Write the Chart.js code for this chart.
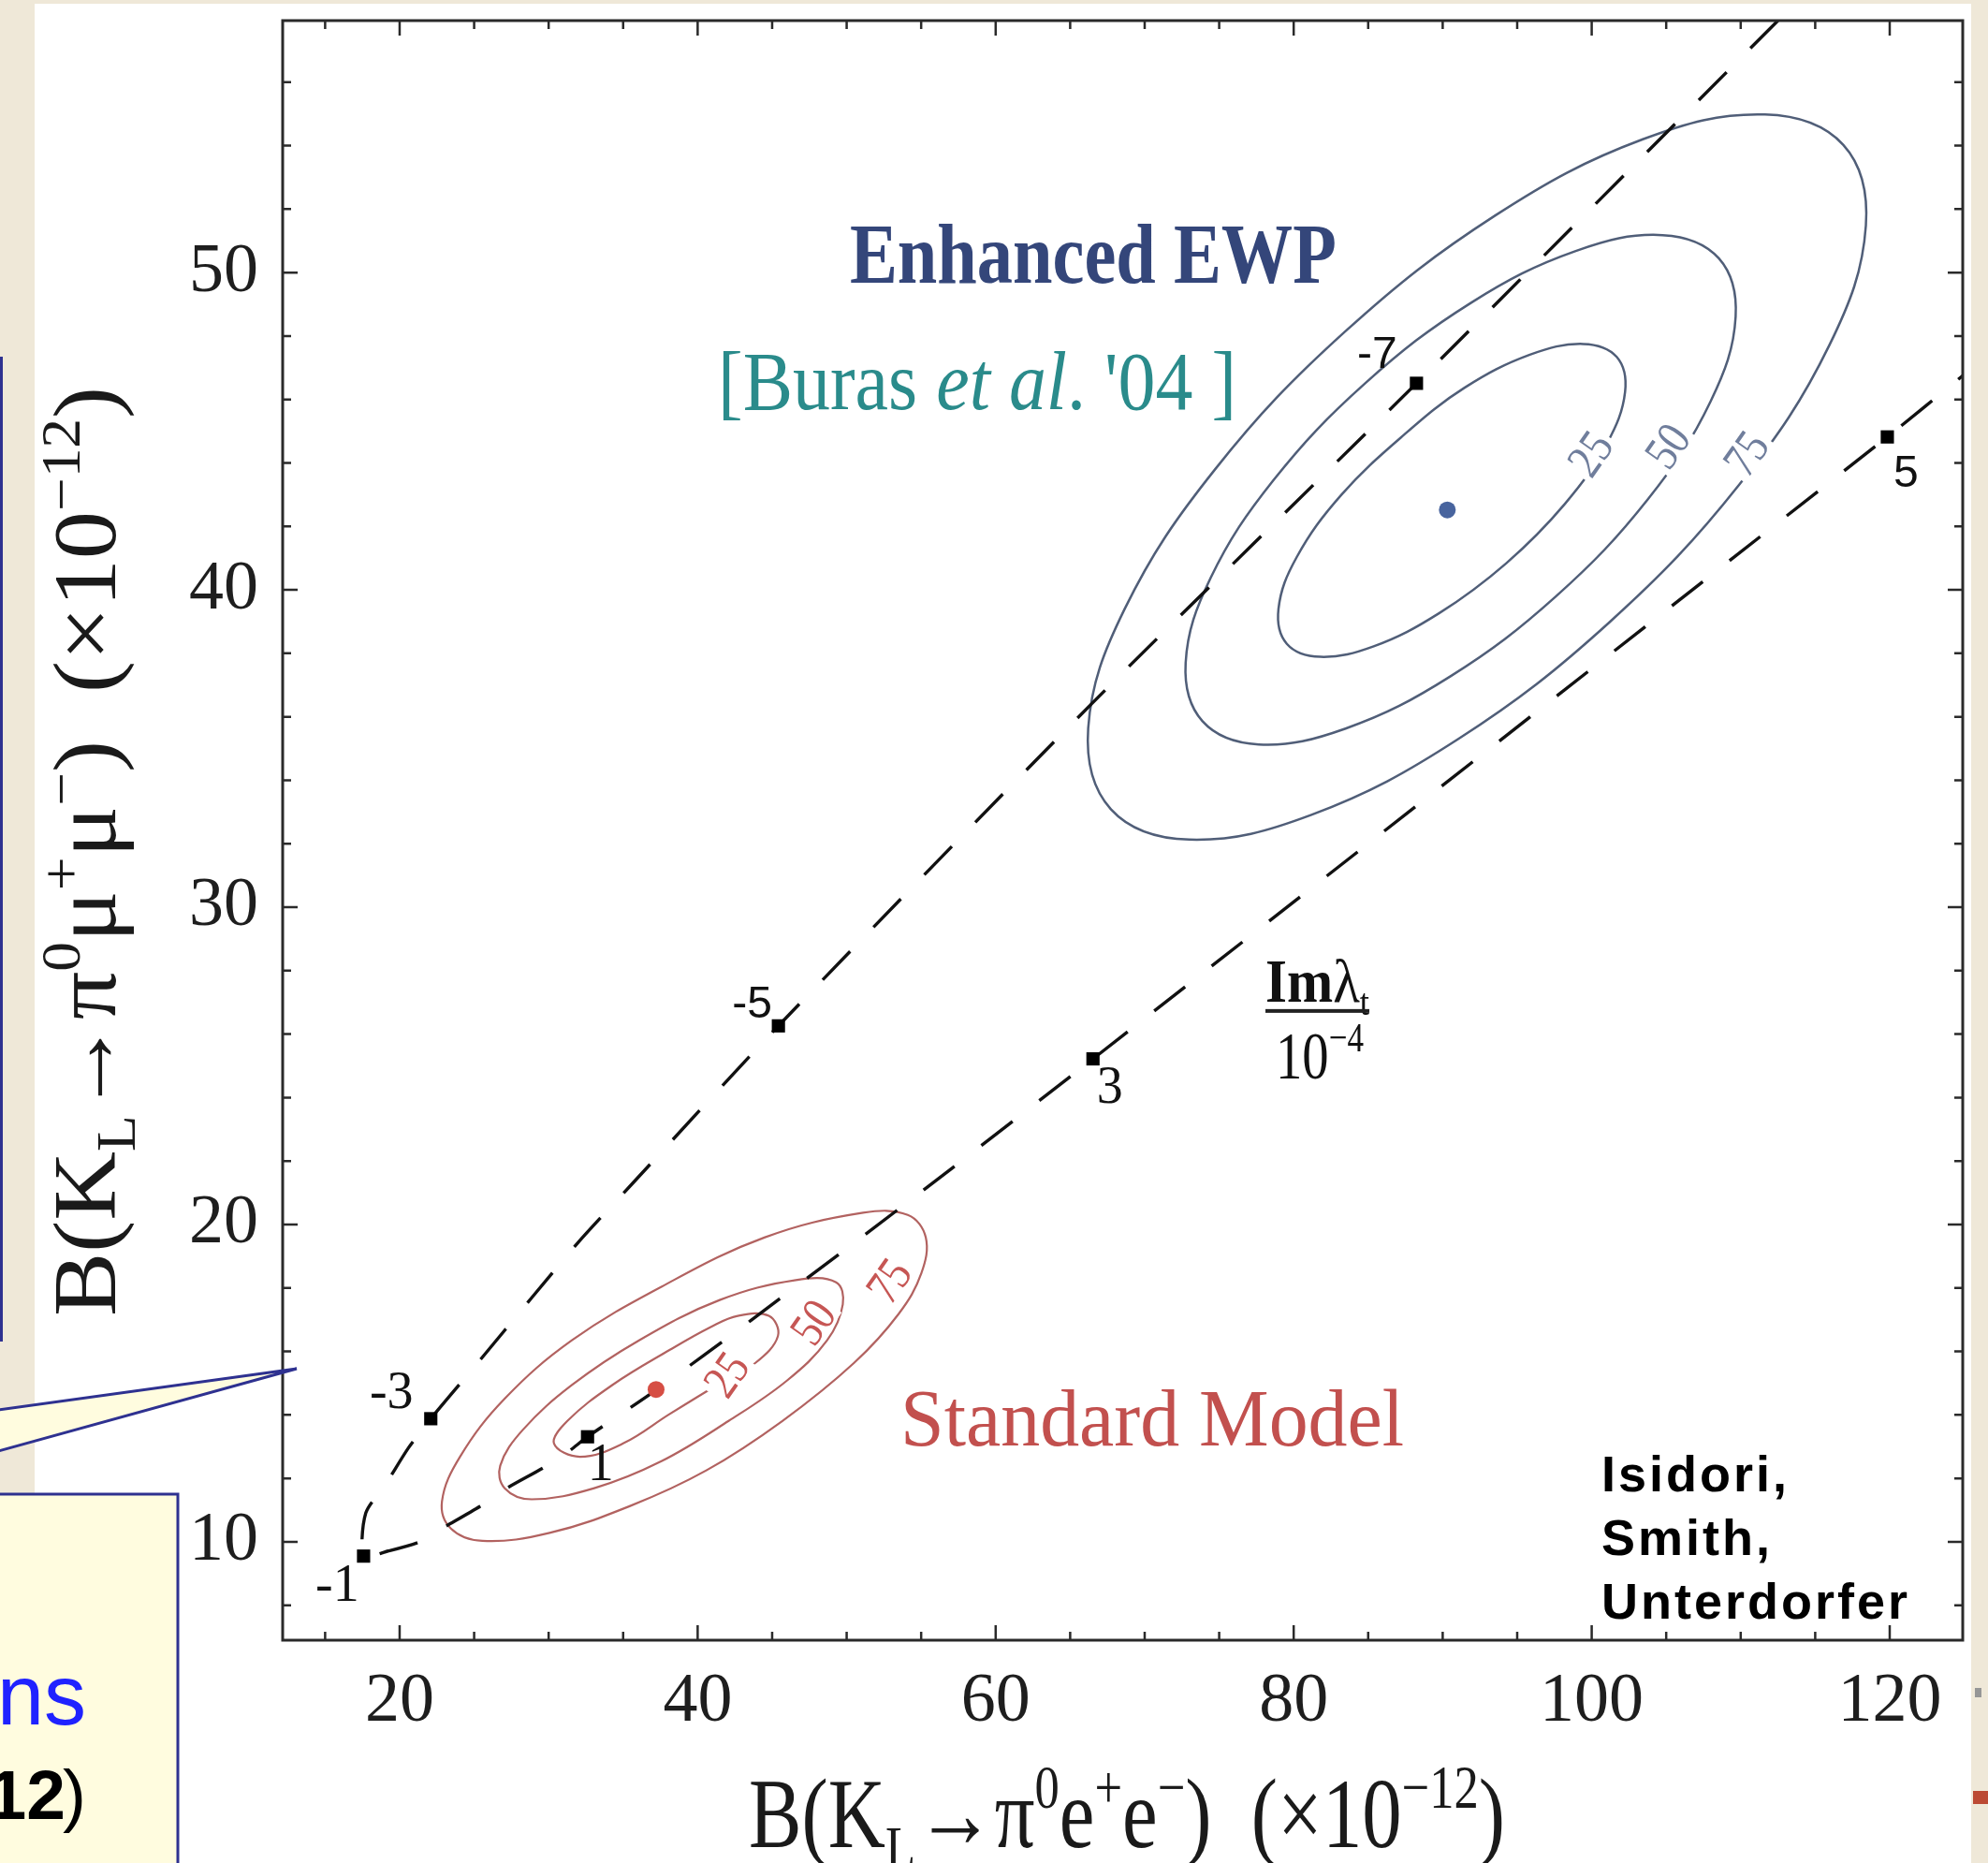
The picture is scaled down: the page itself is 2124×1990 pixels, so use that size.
<!DOCTYPE html>
<html>
<head>
<meta charset="utf-8">
<title>KL -> pi0 l+ l- correlation</title>
<script src="https://cdn.jsdelivr.net/npm/chart.js@4.4.1/dist/chart.umd.min.js"></script>
<style>
  html, body { margin: 0; padding: 0; background: #efe8d8; }
  canvas { display: block; }
</style>
</head>
<body>
<canvas id="kaonPlot" width="2124" height="1990"></canvas>
<script>
// axis tick labels (minor ticks every 5 on x, every 2 on y)
var xTickLabels = [20, 40, 60, 80, 100, 120];
var yTickLabels = [10, 20, 30, 40, 50];

// dashed theory curve (upper branch down to -1, then lower branch)
var curveX = [112.5, 88.24, 66.48, 45.42, 35.62, 32.01, 28.86, 25.24, 22.09, 20.59, 19.08, 17.73, 17.58,
              19.23, 21.34, 22.84, 25.4, 27.2, 29.6, 31.26, 32.61, 37.2, 43.58, 55.15, 66.53, 119.84, 124.9];
var curveY = [57.94, 46.51, 36.43, 26.26, 21.29, 19.45, 17.69, 15.64, 13.88, 12.96, 11.83, 10.91, 9.55,
              9.71, 10.0, 10.42, 11.12, 11.69, 12.32, 12.82, 13.31, 14.78, 16.98, 21.08, 25.22, 44.82, 46.75];

// marked values of Im(lambda_t)/10^-4 on the curve
var imLambdaLabels = ['-7', '-5', '-3', '-1', '1', '3', '5'];
var imLambdaX = [88.24, 45.42, 22.09, 17.58, 32.61, 66.53, 119.84];
var imLambdaY = [46.51, 26.26, 13.88, 9.55, 13.31, 25.22, 44.82];

// central values: Standard Model, Enhanced EWP
var centralX = [37.21, 90.31];
var centralY = [14.80, 42.52];

// Standard Model contours (25, 50, 75)
var sm25X = [42.68, 44.78, 45.39, 43.88, 41.3, 38.1, 35.0, 32.1, 30.36, 31.26, 34.27, 38.17, 40.88];
var sm25Y = [17.12, 17.12, 16.49, 15.64, 14.94, 14.02, 13.1, 12.68, 13.10, 13.81, 14.94, 16.06, 16.77];
var sm50X = [46.59, 49.29, 49.74, 48.69, 45.99, 42.08, 37.57, 33.06, 28.86, 27.05, 26.75, 28.25, 31.56, 36.07, 41.48];
var sm50Y = [18.25, 18.18, 17.48, 16.35, 15.08, 13.81, 12.54, 11.69, 11.34, 11.69, 12.40, 13.52, 14.94, 16.35, 17.62];
var sm75X = [51.10, 54.10, 55.31, 55.01, 53.50, 50.50, 45.69, 40.58, 35.47, 30.06, 25.55, 23.44, 22.84, 24.05, 27.05, 31.56, 37.57, 44.48];
var sm75Y = [20.37, 20.30, 19.59, 18.46, 17.19, 15.64, 13.81, 12.25, 11.13, 10.28, 10.03, 10.42, 11.27, 12.68, 14.51, 16.35, 18.04, 19.59];

// Enhanced EWP contours (25, 50, 75)
var ewp25X = [101.68, 102.24, 101.02, 98.22, 94.27, 89.75, 85.37, 81.78, 79.54, 78.98, 80.19, 83.21, 87.46, 91.47, 95.85, 99.43];
var ewp25Y = [47.34, 46.24, 44.61, 42.72, 40.84, 39.26, 38.22, 37.89, 38.30, 39.40, 41.02, 43.00, 44.91, 46.37, 47.41, 47.75];
var ewp50X = [108.53, 109.66, 107.98, 103.76, 97.61, 90.50, 83.48, 77.65, 73.88, 72.75, 74.42, 78.65, 84.80, 91.91, 98.93, 104.76];
var ewp50Y = [50.45, 48.61, 45.94, 42.85, 39.80, 37.27, 35.63, 35.13, 35.86, 37.70, 40.37, 43.46, 46.51, 49.05, 50.68, 51.18];
var ewp75X = [116.89, 118.40, 115.96, 109.91, 101.17, 91.08, 81.19, 72.99, 67.73, 66.21, 68.66, 74.71, 83.45, 93.53, 103.43, 111.63];
var ewp75Y = [54.02, 51.48, 47.72, 43.32, 38.97, 35.31, 32.91, 32.13, 33.09, 35.64, 39.40, 43.79, 48.14, 51.80, 54.20, 54.98];

// contour level labels and where they sit
var contourLevels = ['25', '50', '75'];
var smLevelX = [42.0, 47.8, 52.9];
var smLevelY = [15.25, 16.9, 18.2];
var ewpLevelX = [99.97, 105.16, 110.43];
var ewpLevelY = [44.27, 44.51, 44.27];

var RED_LINE = 'rgb(178,98,96)';
var BLUE_LINE = 'rgb(80,94,120)';

function loopPoints(xs, ys) {
  // closed curve: wrap one point on each side so the spline is smooth at the seam
  var n = xs.length, pts = [{x: xs[n - 1], y: ys[n - 1]}];
  for (var i = 0; i < n; i++) pts.push({x: xs[i], y: ys[i]});
  pts.push({x: xs[0], y: ys[0]});
  pts.push({x: xs[1], y: ys[1]});
  return pts;
}

function contourSet(label, xs, ys, color, width) {
  var last = xs.length + 2;
  return {
    label: label,
    data: loopPoints(xs, ys),
    showLine: true,
    tension: 0.38,
    pointRadius: 0,
    borderColor: color,
    borderWidth: width,
    fill: false,
    segment: {
      borderColor: function (c) {
        return (c.p0DataIndex === 0 || c.p1DataIndex === last) ? 'rgba(0,0,0,0)' : color;
      }
    }
  };
}

function pairs(xs, ys) {
  return xs.map(function (x, i) { return {x: x, y: ys[i]}; });
}

// ---- text helpers: parts are [text, shift(0 / 1 sup / -1 sub), style, weight]
function setFont(ctx, f, size, p) {
  var sz = p[1] ? size * 0.62 : size;
  ctx.font = (p[2] || f.style || 'normal') + ' ' + (p[3] || f.weight || 'normal') + ' ' + sz + 'px "' + f.family + '"';
}
function richWidth(ctx, parts, f, size) {
  var w = 0;
  parts.forEach(function (p) { setFont(ctx, f, size, p); w += ctx.measureText(p[0]).width; });
  return w;
}
function richDraw(ctx, parts, f, size) {
  var x = 0;
  parts.forEach(function (p) {
    setFont(ctx, f, size, p);
    var dy = p[1] === 1 ? -0.4 * size : (p[1] === -1 ? 0.22 * size : 0);
    ctx.fillText(p[0], x, dy);
    x += ctx.measureText(p[0]).width;
  });
}
// draws rich text with its left/baseline at (left, base), squeezed to a given width
function fitText(ctx, parts, f, size, left, base, width, color, angle) {
  var w = richWidth(ctx, parts, f, size);
  ctx.save();
  ctx.fillStyle = color;
  ctx.textAlign = 'left';
  ctx.textBaseline = 'alphabetic';
  ctx.translate(left, base);
  if (angle) ctx.rotate(angle);
  ctx.scale(width / w, 1);
  richDraw(ctx, parts, f, size);
  ctx.restore();
}

var serif = {family: 'Liberation Serif'};
var serifBold = {family: 'Liberation Serif', weight: 'bold'};

var plotDecor = {
  id: 'plotDecor',
  beforeDraw: function (chart) {
    var ctx = chart.ctx;
    ctx.save();
    ctx.fillStyle = '#efe8d8';
    ctx.fillRect(0, 0, chart.width, chart.height);
    ctx.fillStyle = '#ffffff';
    ctx.fillRect(37, 4, 2106 - 37, chart.height - 4);
    ctx.restore();
  },
  afterDatasetsDraw: function (chart) {
    var ctx = chart.ctx, xs = chart.scales.x, ys = chart.scales.y;
    function px(v) { return xs.getPixelForValue(v); }
    function py(v) { return ys.getPixelForValue(v); }

    // contour level labels, written along the contours
    function levelLabels(lx, ly, color) {
      lx.forEach(function (x, i) {
        ctx.save();
        ctx.translate(px(x), py(ly[i]));
        ctx.rotate(-55 * Math.PI / 180);
        ctx.font = '52px "Liberation Serif"';
        ctx.textAlign = 'center';
        ctx.textBaseline = 'middle';
        var w = ctx.measureText(contourLevels[i]).width * 0.85;
        ctx.fillStyle = '#ffffff';
        ctx.fillRect(-w / 2 - 4, -18, w + 8, 36);
        ctx.fillStyle = color;
        ctx.scale(0.85, 1);
        ctx.fillText(contourLevels[i], 0, 2);
        ctx.restore();
      });
    }
    levelLabels(smLevelX, smLevelY, 'rgb(198,86,84)');
    levelLabels(ewpLevelX, ewpLevelY, 'rgb(112,126,156)');

    // Im(lambda_t) values next to the markers
    var offsets = [[-42, -30], [-28, -22], [-42, -26], [-28, 33], [14, 32], [18, 32], [20, 40]];
    var sansLabel = ['-7', '-5', '5'];
    ctx.save();
    ctx.fillStyle = '#111';
    ctx.textAlign = 'center';
    ctx.textBaseline = 'middle';
    imLambdaLabels.forEach(function (t, i) {
      ctx.font = sansLabel.indexOf(t) >= 0 ? '48px "Liberation Sans"' : '56px "Liberation Serif"';
      ctx.fillText(t, px(imLambdaX[i]) + offsets[i][0], py(imLambdaY[i]) + offsets[i][1]);
    });
    ctx.restore();

    // region labels
    fitText(ctx, [['Enhanced EWP', 0]], serifBold, 90, px(50.21), py(49.68), 520, '#34467a');
    fitText(ctx, [['[Buras ', 0], ['et al', 0, 'italic'], [". '04 ]", 0]], serif, 88, px(41.36), py(45.69), 554, '#2a8b8b');
    fitText(ctx, [['Standard Model', 0]], serif, 86, px(53.61), py(13.04), 538, '#c2504e');

    // Im lambda_t / 10^-4 fraction
    var cx = px(81.56), cy = py(26.73);
    fitText(ctx, [['Im', 0, '', 'bold'], ['\u03bb', 0], ['t', -1]], serif, 66, cx - 55, cy - 10, 111, '#111');
    ctx.save();
    ctx.fillStyle = '#222';
    ctx.fillRect(cx - 55, cy - 2, 111, 4);
    ctx.restore();
    fitText(ctx, [['10', 0], ['\u22124', 1]], serif, 72, cx - 44, cy + 72, 94, '#111');
  },
  afterDraw: function (chart) {
    var ctx = chart.ctx, a = chart.chartArea, xs = chart.scales.x, ys = chart.scales.y;

    // frame and inward ticks on all four sides
    ctx.save();
    ctx.strokeStyle = '#2a2a2a';
    ctx.lineWidth = 2.5;
    ctx.beginPath();
    xs.ticks.forEach(function (t) {
      var p = xs.getPixelForValue(t.value), len = xTickLabels.indexOf(t.value) >= 0 ? 16 : 9;
      ctx.moveTo(p, a.bottom); ctx.lineTo(p, a.bottom - len);
      ctx.moveTo(p, a.top); ctx.lineTo(p, a.top + len);
    });
    ys.ticks.forEach(function (t) {
      var p = ys.getPixelForValue(t.value), len = yTickLabels.indexOf(t.value) >= 0 ? 16 : 9;
      ctx.moveTo(a.left, p); ctx.lineTo(a.left + len, p);
      ctx.moveTo(a.right, p); ctx.lineTo(a.right - len, p);
    });
    ctx.stroke();
    ctx.lineWidth = 3;
    ctx.strokeRect(a.left, a.top, a.right - a.left, a.bottom - a.top);
    ctx.restore();

    // axis titles
    fitText(ctx, [['B(K', 0], ['L', -1], ['\u2192\u03c0', 0], ['0', 1], ['e', 0], ['+', 1], ['e', 0], ['\u2212', 1], [')', 0],
                  ['  (\u00d710', 0], ['\u221212', 1], [')', 0]], serif, 106, 800, 1973, 808, '#1a1a1a');
    fitText(ctx, [['B(K', 0], ['L', -1], ['\u2192\u03c0', 0], ['0', 1], ['\u03bc', 0], ['+', 1], ['\u03bc', 0], ['\u2212', 1], [')', 0],
                  ['  (\u00d710', 0], ['\u221212', 1], [')', 0]], serif, 96, 123, 1406, 993, '#1a1a1a', -Math.PI / 2);

    // credit
    ctx.save();
    ctx.fillStyle = '#000';
    ctx.font = 'bold 54px "Liberation Sans"';
    ctx.letterSpacing = '3px';
    ctx.textAlign = 'left';
    ctx.textBaseline = 'alphabetic';
    ctx.fillText('Isidori,', 1711, 1593);
    ctx.fillText('Smith,', 1711, 1661);
    ctx.fillText('Unterdorfer', 1711, 1729);
    ctx.restore();

    // slide overlay: box edge and callout on the left
    ctx.save();
    ctx.fillStyle = '#2e3190';
    ctx.fillRect(0, 381, 3, 1052);
    ctx.fillStyle = '#fffcdf';
    ctx.strokeStyle = '#2e3190';
    ctx.lineWidth = 3;
    ctx.beginPath();
    ctx.moveTo(-2, 1506); ctx.lineTo(317, 1462); ctx.lineTo(-2, 1550);
    ctx.closePath();
    ctx.fill();
    ctx.beginPath();
    ctx.moveTo(-2, 1506); ctx.lineTo(317, 1462); ctx.lineTo(-2, 1550);
    ctx.stroke();
    ctx.fillRect(-10, 1596, 200, 420);
    ctx.strokeRect(-10, 1596, 200, 420);
    ctx.fillStyle = '#1f22ff';
    ctx.font = '90px "Liberation Sans"';
    ctx.textAlign = 'right';
    ctx.fillText('ns', 92, 1842);
    ctx.fillStyle = '#000';
    ctx.font = '75px "Liberation Sans"';
    ctx.fillText(')', 92, 1943);
    ctx.font = 'bold 75px "Liberation Sans"';
    ctx.fillText('12', 70, 1943);
    // cut-off slide items at the right edge
    ctx.fillStyle = 'rgb(188,74,52)';
    ctx.fillRect(2108, 1913, 16, 14);
    ctx.fillStyle = 'rgb(150,150,150)';
    ctx.fillRect(2110, 1803, 7, 10);
    ctx.restore();
  }
};

var ctx = document.getElementById('kaonPlot').getContext('2d');
var kaonChart = new Chart(ctx, {
  type: 'scatter',
  data: {
    datasets: [
      {
        label: 'Im lambda_t markers',
        data: pairs(imLambdaX, imLambdaY),
        pointStyle: 'rect',
        pointRadius: 10,
        backgroundColor: '#000',
        borderColor: '#000',
        borderWidth: 0
      },
      {
        label: 'central values',
        data: pairs(centralX, centralY),
        pointRadius: 9,
        backgroundColor: ['rgb(214,78,68)', 'rgb(72,100,158)'],
        borderWidth: 0
      },
      {
        label: 'theory curve',
        data: pairs(curveX, curveY),
        showLine: true,
        tension: 0.25,
        pointRadius: 0,
        borderColor: '#111',
        borderWidth: 3.4,
        borderDash: [42, 36]
      },
      contourSet('SM 25', sm25X, sm25Y, RED_LINE, 2.2),
      contourSet('SM 50', sm50X, sm50Y, RED_LINE, 2.2),
      contourSet('SM 75', sm75X, sm75Y, RED_LINE, 2.2),
      contourSet('EWP 25', ewp25X, ewp25Y, BLUE_LINE, 2.5),
      contourSet('EWP 50', ewp50X, ewp50Y, BLUE_LINE, 2.5),
      contourSet('EWP 75', ewp75X, ewp75Y, BLUE_LINE, 2.5)
    ]
  },
  options: {
    responsive: false,
    animation: false,
    devicePixelRatio: 1,
    layout: { padding: { left: 0, top: 22, right: 27, bottom: 0 } },
    plugins: {
      legend: { display: false },
      tooltip: { enabled: false },
      title: { display: false }
    },
    scales: {
      x: {
        type: 'linear',
        min: 12.15,
        max: 124.9,
        grid: { display: false, drawTicks: false, tickLength: 0 },
        border: { display: false },
        ticks: {
          stepSize: 5,
          autoSkip: false,
          includeBounds: false,
          maxRotation: 0,
          padding: 22,
          color: '#1e1e1e',
          font: { family: 'Liberation Serif', size: 74 },
          callback: function (v) { return xTickLabels.indexOf(v) >= 0 ? String(v) : ''; }
        },
        afterFit: function (scale) {
          scale.height = 238;
          scale.paddingLeft = 0;
          scale.paddingRight = 0;
        }
      },
      y: {
        type: 'linear',
        min: 6.9,
        max: 57.94,
        grid: { display: false, drawTicks: false, tickLength: 0 },
        border: { display: false },
        ticks: {
          stepSize: 2,
          autoSkip: false,
          includeBounds: false,
          padding: 26,
          color: '#1e1e1e',
          font: { family: 'Liberation Serif', size: 74 },
          callback: function (v) { return yTickLabels.indexOf(v) >= 0 ? String(v) : ''; }
        },
        afterFit: function (scale) {
          scale.width = 302;
          scale.paddingTop = 0;
          scale.paddingBottom = 0;
        }
      }
    }
  },
  plugins: [plotDecor]
});
</script>
</body>
</html>
